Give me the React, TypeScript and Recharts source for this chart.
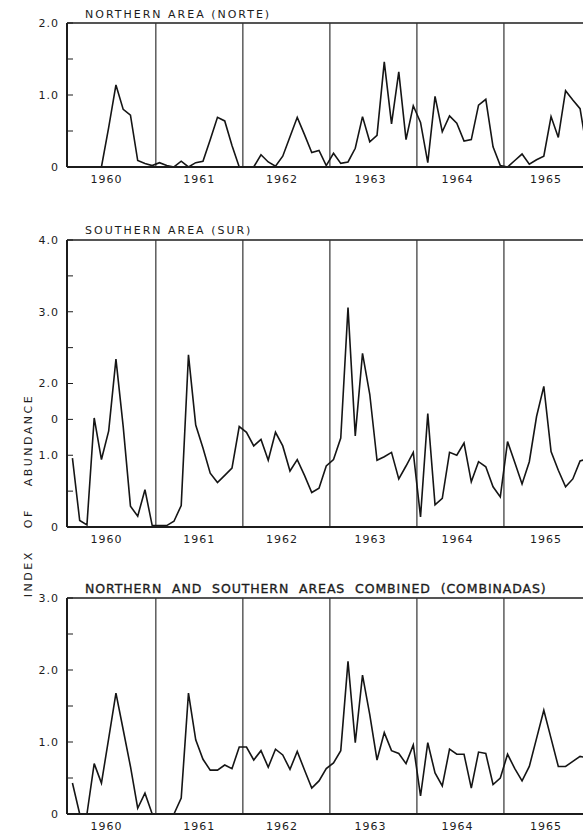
import { Line, LineChart, ReferenceLine, XAxis, YAxis } from "recharts";

// month index 0 = January 1960
const years = ["1960", "1961", "1962", "1963", "1964", "1965"];
// where the year names were lettered under each axis (month units)
const yearLabelAt = [4.7, 17.5, 28.9, 41.1, 53.1, 65.3];
// December / January boundaries
const yearBreaks = [11.5, 23.5, 35.5, 47.5, 59.5];

const north = [
  0, 0, 0, 0, 0, 0.55, 1.14, 0.8, 0.72, 0.09, 0.05, 0.02,
  0.06, 0.02, 0, 0.08, 0, 0.06, 0.08, 0.38, 0.69, 0.64, 0.3, 0,
  0, 0, 0.17, 0.07, 0.01, 0.15, 0.42, 0.69, 0.45, 0.2, 0.23, 0.02,
  0.19, 0.05, 0.07, 0.26, 0.7, 0.35, 0.44, 1.46, 0.6, 1.32, 0.38, 0.85,
  0.62, 0.06, 0.98, 0.49, 0.71, 0.61, 0.36, 0.38, 0.86, 0.94, 0.28, 0.02,
  0, 0.09, 0.18, 0.04, 0.1, 0.15, 0.7, 0.41, 1.06, 0.93, 0.81, 0.2,
];

const south = [
  0.96, 0.09, 0.03, 1.52, 0.94, 1.34, 2.34, 1.4, 0.29, 0.15, 0.52, 0.02,
  0.02, 0.02, 0.08, 0.3, 2.4, 1.42, 1.1, 0.75, 0.62, 0.72, 0.82, 1.4,
  1.32, 1.13, 1.22, 0.93, 1.32, 1.13, 0.78, 0.94, 0.72, 0.48, 0.54, 0.85,
  0.94, 1.24, 3.06, 1.27, 2.42, 1.85, 0.93, 0.98, 1.04, 0.67, 0.85, 1.04,
  0.14, 1.58, 0.31, 0.4, 1.04, 1.0, 1.17, 0.63, 0.91, 0.84, 0.56, 0.42,
  1.19, 0.9, 0.6, 0.91, 1.54, 1.96, 1.05, 0.79, 0.56, 0.67, 0.92, 0.95,
];

const combined = [
  0.43, 0, 0, 0.7, 0.43, 1.05, 1.68, 1.17, 0.66, 0.08, 0.29, 0,
  0, 0, 0, 0.22, 1.68, 1.03, 0.76, 0.61, 0.61, 0.68, 0.63, 0.93,
  0.93, 0.75, 0.88, 0.65, 0.9, 0.82, 0.62, 0.87, 0.61, 0.36, 0.46, 0.63,
  0.71, 0.88, 2.12, 0.99, 1.93, 1.38, 0.75, 1.13, 0.88, 0.84, 0.7, 0.96,
  0.25, 0.99, 0.57, 0.39, 0.9, 0.83, 0.83, 0.36, 0.86, 0.84, 0.41, 0.5,
  0.83, 0.63, 0.46, 0.66, 1.05, 1.44, 1.05, 0.66, 0.66, 0.73, 0.8, 0.78,
];

const northTicks = [0, 0.5, 1, 1.5, 2];
const northTickLabels = ["0", "", "1.0", "", "2.0"];
// the original has a stray "0" lettered at 1.5
const southTicks = [0, 0.5, 1, 1.5, 2, 2.5, 3, 3.5, 4];
const southTickLabels = ["0", "", "1.0", "0", "2.0", "", "3.0", "", "4.0"];
const combinedTicks = [0, 0.5, 1, 1.5, 2, 2.5, 3];
const combinedTickLabels = ["0", "", "1.0", "", "2.0", "", "3.0"];

const FONT = "'DejaVu Sans', sans-serif";
const INK = "#1c1c1c";
const AXIS_X = 67;
const TOP_PAD = 10;
const X_AXIS_H = 30;
const CHART_W = 604;

type PanelProps = {
  series: number[];
  yMax: number;
  ticks: number[];
  tickLabels: string[];
  plotTop: number;
  plotHeight: number;
};

function Panel({ series, yMax, ticks, tickLabels, plotTop, plotHeight }: PanelProps) {
  const data = series.map((v, i) => ({ month: i, value: v }));
  const bottom = TOP_PAD + plotHeight;

  return (
    <div style={{ position: "absolute", left: 0, top: plotTop - TOP_PAD }}>
      <LineChart
        width={CHART_W}
        height={TOP_PAD + plotHeight + X_AXIS_H}
        data={data}
        margin={{ top: TOP_PAD, right: 0, left: 0, bottom: 0 }}
      >
        <XAxis
          type="number"
          dataKey="month"
          domain={[-0.75, 73.3]}
          ticks={yearLabelAt}
          interval={0}
          height={X_AXIS_H}
          tickLine={false}
          axisLine={{ stroke: INK, strokeWidth: 2 }}
          tick={(p: any) => (
            <text
              x={p.x}
              y={bottom + 15.5}
              textAnchor="middle"
              fontFamily={FONT}
              fontSize={11}
              letterSpacing={1}
              fill={INK}
            >
              {years[yearLabelAt.indexOf(p.payload.value)]}
            </text>
          )}
        />
        <YAxis
          type="number"
          domain={[0, yMax]}
          ticks={ticks}
          interval={0}
          width={AXIS_X}
          tickLine={false}
          axisLine={{ stroke: INK, strokeWidth: 2 }}
          tick={(p: any) => {
            const label = tickLabels[ticks.indexOf(p.payload.value)];
            return (
              <g>
                <line x1={AXIS_X} x2={AXIS_X + 6} y1={p.y} y2={p.y} stroke={INK} strokeWidth={1} />
                {label ? (
                  <text
                    x={59}
                    y={p.y}
                    dy="0.36em"
                    textAnchor="end"
                    fontFamily={FONT}
                    fontSize={11}
                    letterSpacing={1}
                    fill={INK}
                  >
                    {label}
                  </text>
                ) : null}
              </g>
            );
          }}
        />
        <ReferenceLine y={yMax} stroke={INK} strokeWidth={1.5} />
        {yearBreaks.map((b) => (
          <ReferenceLine key={b} x={b} stroke="#333" strokeWidth={1.2} />
        ))}
        <Line
          type="linear"
          dataKey="value"
          stroke="#151515"
          strokeWidth={1.6}
          dot={false}
          isAnimationActive={false}
        />
      </LineChart>
    </div>
  );
}

export default function App() {
  return (
    <div
      style={{
        position: "absolute",
        left: 0,
        top: 0,
        width: 583,
        height: 834,
        overflow: "hidden",
        background: "#fff",
      }}
    >
      <Panel series={north} yMax={2} ticks={northTicks} tickLabels={northTickLabels} plotTop={23} plotHeight={144} />
      <Panel series={south} yMax={4} ticks={southTicks} tickLabels={southTickLabels} plotTop={240} plotHeight={287} />
      <Panel series={combined} yMax={3} ticks={combinedTicks} tickLabels={combinedTickLabels} plotTop={598} plotHeight={216} />
      <svg
        width={583}
        height={834}
        style={{ position: "absolute", left: 0, top: 0, pointerEvents: "none" }}
      >
        <g fontFamily={FONT} fill={INK}>
          <text x={85} y={18} fontSize={11} letterSpacing={2}>
            NORTHERN AREA (NORTE)
          </text>
          <text x={85} y={234} fontSize={11} letterSpacing={2}>
            SOUTHERN AREA (SUR)
          </text>
          <text
            x={85}
            y={593}
            fontSize={12.5}
            letterSpacing={0.9}
            wordSpacing={5}
            stroke={INK}
            strokeWidth={0.35}
          >
            NORTHERN AND SOUTHERN AREAS COMBINED (COMBINADAS)
          </text>
          <text
            transform="translate(31.5, 495.5) rotate(-90)"
            textAnchor="middle"
            fontSize={11}
            letterSpacing={2.5}
            wordSpacing={16}
          >
            INDEX OF ABUNDANCE
          </text>
        </g>
      </svg>
    </div>
  );
}
